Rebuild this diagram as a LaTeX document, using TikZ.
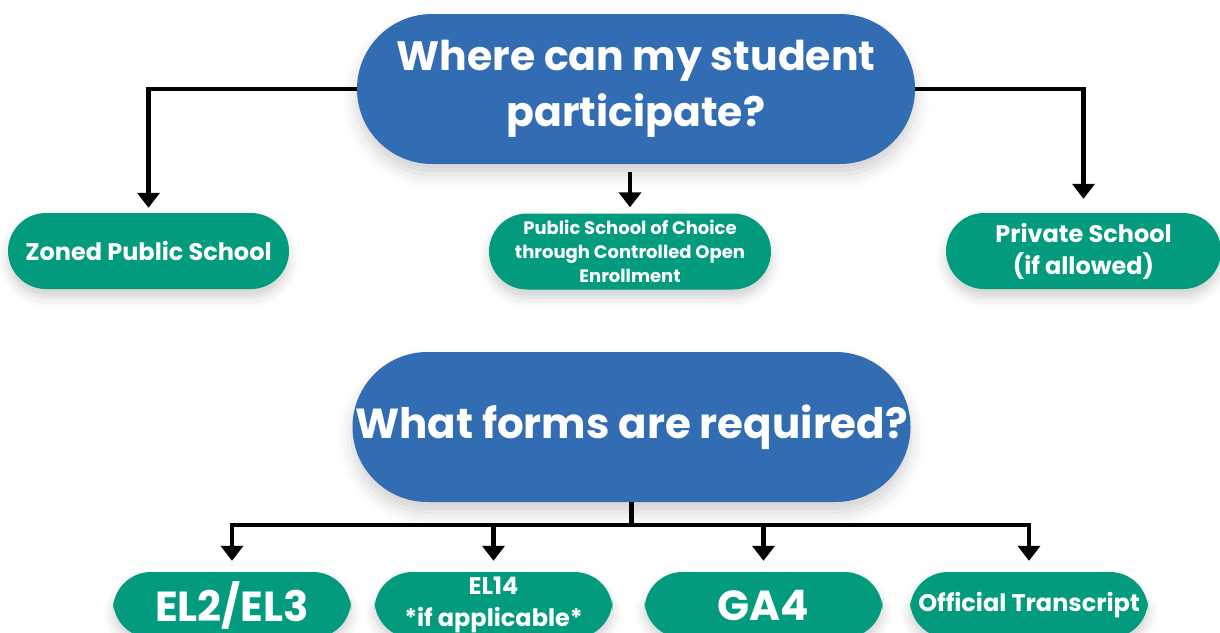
\documentclass[tikz,border=0pt]{standalone}
\usepackage{fontspec}
\setmainfont{Poppins}
\usetikzlibrary{arrows.meta,shadows.blur}
\definecolor{qblue}{RGB}{50,108,178}
\definecolor{qgreen}{RGB}{3,155,125}
\begin{document}
\begin{tikzpicture}[x=1pt,y=1pt,
		question/.style={fill=qblue, text=white, rounded corners=75pt, minimum width=558pt, minimum height=150pt, inner sep=0pt, align=center, font=\bfseries\fontsize{41}{56}\selectfont, blur shadow={shadow xshift=0pt, shadow yshift=-10pt, shadow blur radius=14pt, shadow opacity=18}},
		answer/.style={fill=qgreen, text=white, rounded corners=38pt, minimum height=76pt, inner sep=0pt, align=center, font=\bfseries\fontsize{24}{32}\selectfont, blur shadow={shadow xshift=0pt, shadow yshift=-8pt, shadow blur radius=10pt, shadow opacity=18}},
		big/.style={font=\bfseries\fontsize{42}{44}\selectfont},
		arr/.style={-{Triangle[width=22pt,length=15pt]}, line width=4.5pt}]  %participation and forms
	\useasboundingbox (0,0) rectangle (1220,-632);
	% where
	\node[question] (where) at (636,-89) {Where can my student\\participate?};
	\node[answer, minimum width=281pt] (zoned) at (148.5,-251) {Zoned Public School};
	\node[answer, minimum width=282pt, font=\bfseries\fontsize{18}{24}\selectfont] (choice) at (630,-251.5) {Public School of Choice\\through Controlled Open\\Enrollment};
	\node[answer, minimum width=275pt] (private) at (1083.5,-251) {Private School\\(if allowed)};
	\draw[arr, shorten >=5pt] (where.west) -| (zoned.north);
	\draw[arr, shorten <=8pt, shorten >=6pt] (choice.north |- where.south) -- (choice.north);
	\draw[arr, shorten >=14pt] (where.east) -| (private.north);
	% forms
	\node[question, font=\bfseries\fontsize{42}{56}\selectfont] (forms) at (631.5,-427) {What forms are required?};
	\node[answer, big, minimum width=238pt, minimum height=66pt] (el2) at (232,-605) {EL2/EL3};
	\node[answer, minimum width=238pt, minimum height=66pt] (el14) at (493.5,-605) {EL14\\*if applicable*};
	\node[answer, big, minimum width=238pt, minimum height=66pt] (ga4) at (763.5,-605) {GA4};
	\node[answer, minimum width=238pt, minimum height=66pt] (transcript) at (1029,-605) {Official Transcript};
	\draw[line width=4.5pt] (forms.south) -- ++(0,-23) coordinate (split);
	\draw[arr, shorten >=11pt] (split) -| (el2.north);
	\draw[arr, shorten >=11pt] (split) -| (el14.north);
	\draw[arr, shorten >=11pt] (split) -| (ga4.north);
	\draw[arr, shorten >=11pt] (split) -| (transcript.north);
\end{tikzpicture}
\end{document}
